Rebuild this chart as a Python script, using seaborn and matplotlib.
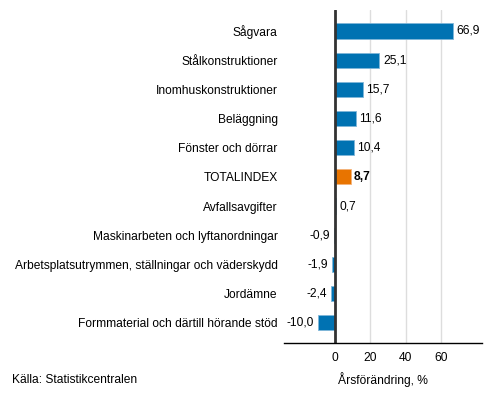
import pandas as pd
import matplotlib
matplotlib.use("Agg")
import matplotlib.pyplot as plt
import seaborn as sns

# Data
categories = ["Sågvara", "Stålkonstruktioner", "Inomhuskonstruktioner", "Beläggning",
              "Fönster och dörrar", "TOTALINDEX", "Avfallsavgifter",
              "Maskinarbeten och lyftanordningar",
              "Arbetsplatsutrymmen, ställningar och väderskydd", "Jordämne",
              "Formmaterial och därtill hörande stöd"]
values = [66.9, 25.1, 15.7, 11.6, 10.4, 8.7, 0.7, -0.9, -1.9, -2.4, -10.0]
highlight = "TOTALINDEX"

df = pd.DataFrame({"cat": categories, "val": values})
df["grp"] = ["total" if c == highlight else "other" for c in categories]

sns.set_style("white")
plt.rcParams["font.family"] = ["Liberation Sans", "DejaVu Sans"]
plt.rcParams["text.color"] = "black"
fs = 8.65

fig = plt.figure(figsize=(4.93, 4.16), dpi=100)
ax = fig.add_axes([0.576, 0.175, 0.401, 0.801])

sns.barplot(data=df, x="val", y="cat", hue="grp", orient="h", dodge=False,
            palette={"other": "#0072B2", "total": "#E87400"}, saturation=1,
            width=0.52, edgecolor="#7fb6d9", linewidth=0.6, legend=False, ax=ax)
# lighter edge for the orange bar
for bar in ax.patches:
    if abs(bar.get_width() - 8.7) < 1e-6:
        bar.set_edgecolor("#f4b27a")

ax.set_xlim(-29, 83)
ax.set_ylim(len(categories) - 0.3, -0.72)
ax.set_xticks([0, 20, 40, 60])
ax.grid(axis="x", color="#dddddd", linewidth=1)
ax.set_axisbelow(True)
ax.axvline(0, color="#333333", linewidth=2, zorder=1.5)

for s in ["top", "right", "left"]:
    ax.spines[s].set_visible(False)
ax.spines["bottom"].set_color("black")
ax.spines["bottom"].set_linewidth(1)

ax.tick_params(axis="both", length=0, labelsize=fs, colors="black")
ax.tick_params(axis="y", pad=4.5)
ax.tick_params(axis="x", pad=6)
ax.set_ylabel("")
ax.set_xlabel("Årsförändring, %", fontsize=fs, labelpad=6, color="black")

# value labels
for i, (c, v) in enumerate(zip(categories, values)):
    txt = f"{v:.1f}".replace(".", ",")
    w = "bold" if c == highlight else "normal"
    if v >= 0:
        ax.annotate(txt, (v, i), xytext=(2.5, 0), textcoords="offset points",
                    ha="left", va="center", fontsize=fs, fontweight=w, color="black")
    else:
        ax.annotate(txt, (v, i), xytext=(-2.5, 0), textcoords="offset points",
                    ha="right", va="center", fontsize=fs, fontweight=w, color="black")

fig.text(12 / 493, 1 - 380 / 416, "Källa: Statistikcentralen", fontsize=fs,
         ha="left", va="center", color="black")

fig.savefig("out.png", dpi=100)
